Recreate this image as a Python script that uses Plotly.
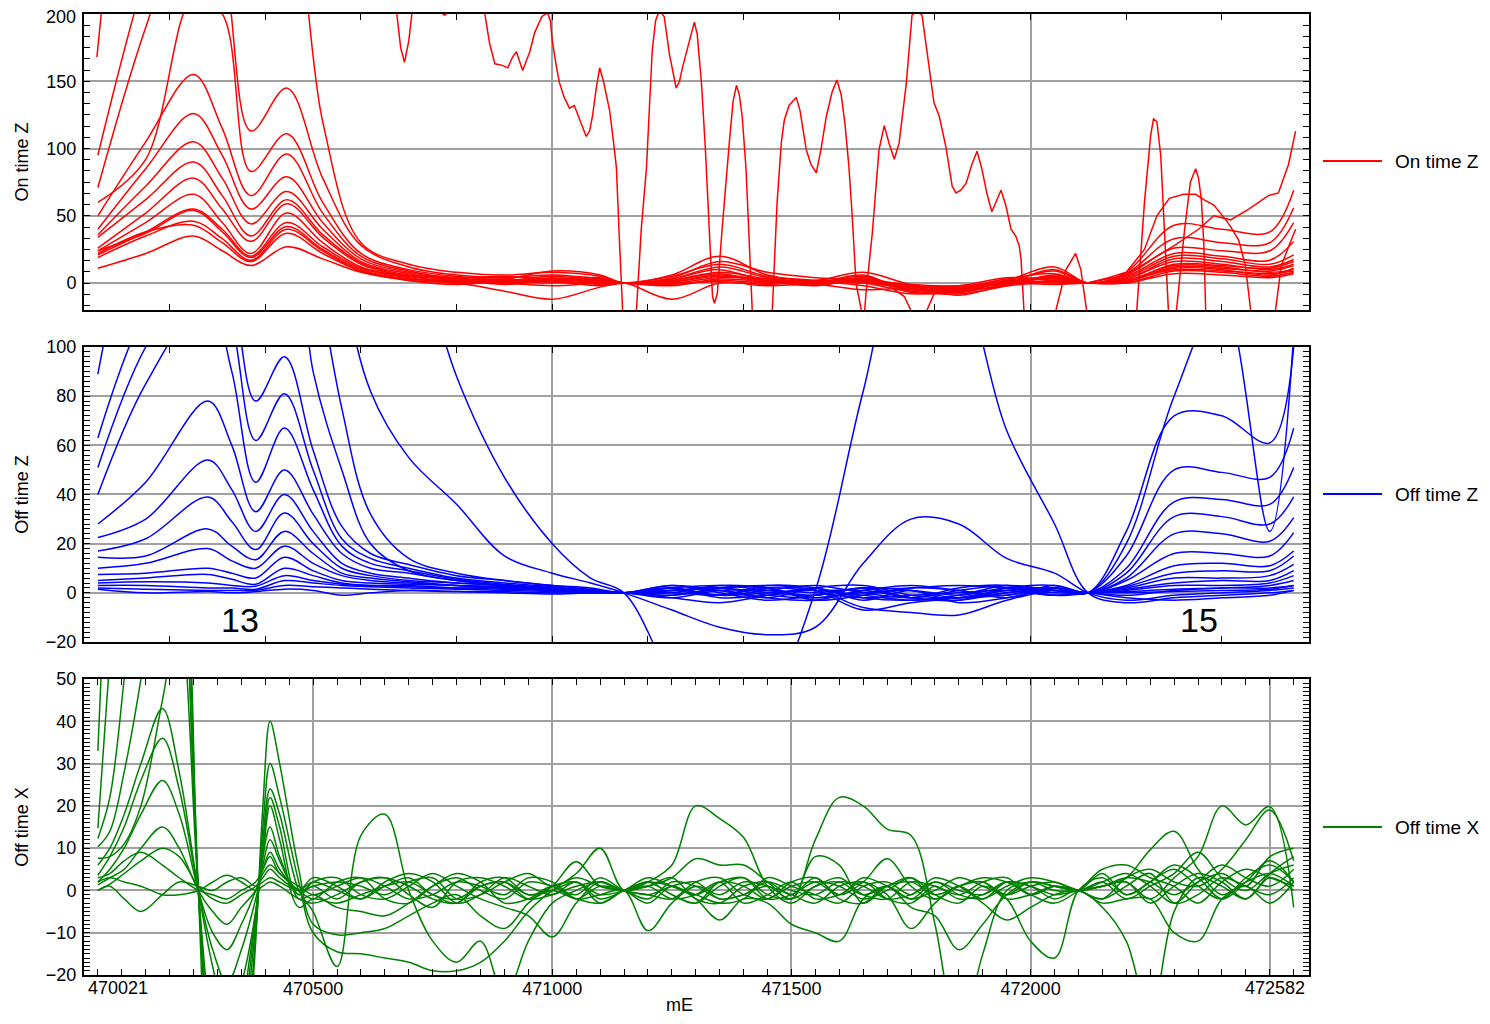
import plotly.graph_objects as go

RED = "#ff0000"
BLUE = "#0000ff"
GREEN = "#008000"
GRID = "#a0a0a0"
FONT = "Liberation Sans, Arial, sans-serif"

X_RANGE = [470021, 472582]

# ---------------- On time Z (red) ----------------
X_ON = [470050, 470150, 470250, 470310, 470370, 470445, 470520, 470600, 470700, 470800,
        470900, 471000, 471100, 471150, 471250, 471350, 471450, 471550, 471650, 471750,
        471850, 471950, 472050, 472120, 472200, 472300, 472400, 472500, 472550]

ON_B = [95, 230, 330, 290, 230, 300, 120, 30, 14, 8, 6, 8, 5, 0, 3, 12, 4, 1, 3, -2, -5, 1, 9, 0, 8, 43, 40, 38, 69]
ON_C = [71, 190, 280, 240, 113, 145, 78, 28, 12, 6, 4, 6, 3, 0, 6, 20, 6, 2, 8, -1, -4, 2, 12, 0, 7, 33, 30, 30, 56]
ON_D = [60, 92, 212, 200, 83, 111, 60, 22, 10, 5, 3, 9, 6, 0, 4, 16, 8, 4, 2, -4, -7, 0, 10, 0, 6, 26, 24, 24, 45]
ON_E = [50, 105, 155, 115, 65, 96, 52, 20, 9, 4, 5, 3, 4, 0, 2, 8, 3, 0, 5, -6, -8, -2, 6, 0, 5, 22, 20, 17, 31]
ON_F = [40, 85, 126, 95, 55, 79, 45, 18, 8, 3, 2, 5, 2, 0, 5, 14, 5, 2, 0, -3, -3, 3, 7, 0, 4, 20, 18, 14, 21]
ON_G = [36, 72, 105, 78, 44, 68, 40, 16, 7, 2, 3, 1, 3, 0, 1, 6, 2, -1, 4, -5, -6, 1, 4, 0, 3, 18, 16, 12, 17.5]
ON_H = [34, 62, 90, 65, 35, 62, 36, 15, 6, 4, 1, 4, 1, 0, 3, 10, 1, 1, 1, -2, -9, -1, 5, 0, 3, 16, 14, 10, 14]
ON_I = [26, 52, 78, 55, 31, 59, 34, 14, 5, 1, 2, 2, 2, 0, 0, 4, 3, 0, 6, -7, -4, 2, 3, 0, 2, 13, 12, 8, 10]
ON_J = [24, 45, 66, 45, 22, 52, 30, 12, 5, 3, 0, 3, 0, 0, 2, 7, 0, 2, 2, -1, -2, 4, 2, 0, 2, 10, 9, 7, 9]
ON_K = [21, 38, 55, 40, 20, 45, 27, 11, 4, 0, 1, 0, 1, 0, -2, 3, 1, -2, 3, -4, -5, 0, 1, 0, 1, 12, 11, 9, 13]
ON_L = [24, 37, 54, 38, 19, 42, 25, 10, 3, 2, -1, 2, -1, 0, 1, 5, 2, 1, 0, -6, -3, -1, 2, 0, 1, 14, 13, 11, 16]
ON_M = [19, 35, 46, 33, 17, 40, 24, 9, 3, 1, 0, -2, 0, 0, -1, 2, 0, 0, 1, -3, -7, 1, 0, 0, 1, 11, 10, 6, 11]
ON_N = [22, 38, 43, 30, 16, 37, 22, 9, 2, -1, 1, 1, -2, 0, 0, 1, -1, 1, -2, -8, -6, -2, 1, 0, 0, 9, 8, 5, 8]
ON_O = [11, 22, 35, 24, 13, 27, 18, 8, 2, 0, -6, -12, -3, 0, -12, 0, -2, -1, -5, -3, -2, 0, -1, 0, 0, 7, 6, 4, 7]
ON_CURVES = [ON_B, ON_C, ON_D, ON_E, ON_F, ON_G, ON_H, ON_I, ON_J, ON_K, ON_L, ON_M, ON_N, ON_O]

# the wild line running mostly off the top, with its spikes
ON_WILD_X = [470048, 470057, 470086, 470159, 470263, 470389, 470514, 470618, 470675, 470683,
             470691, 470700, 470708, 470733, 470765, 470775, 470786, 470827, 470859, 470869,
             470880, 470894, 470907, 470917, 470925, 470932, 470938, 470953, 470963, 470978,
             470990, 470996, 471000, 471009, 471015, 471025, 471036, 471046, 471059, 471071,
             471078, 471084, 471092, 471099, 471107, 471120, 471128, 471134, 471140, 471147,
             471161, 471176, 471186, 471197, 471203, 471209, 471216, 471224, 471234, 471245,
             471259, 471266, 471272, 471282, 471291, 471297, 471303, 471312, 471320, 471328,
             471335, 471339, 471345, 471355, 471364, 471370, 471378, 471385, 471391, 471397,
             471405, 471412, 471418, 471439, 471460, 471470, 471479, 471485, 471495, 471510,
             471518, 471531, 471541, 471552, 471562, 471573, 471585, 471595, 471604, 471612,
             471620, 471627, 471635, 471646, 471652, 471656, 471669, 471683, 471694, 471704,
             471715, 471725, 471740, 471752, 471763, 471773, 471788, 471798, 471809, 471823,
             471836, 471844, 471854, 471865, 471877, 471888, 471898, 471909, 471919, 471929,
             471938, 471948, 471959, 471969, 471976, 471980, 471986, 472017, 472053, 472074,
             472094, 472105, 472117, 472163, 472222, 472238, 472251, 472257, 472264, 472272,
             472280, 472288, 472297, 472305, 472322, 472334, 472345, 472351, 472357, 472362,
             472366, 472414, 472554]
ON_WILD_Y = [168, 200, 260, 330, 380, 360, 300, 240, 200, 175,
             164, 180, 205, 215, 202, 199, 203, 215, 200, 178,
             163, 162, 160, 168, 172, 165, 158, 172, 186, 198,
             201, 195, 180, 160, 149, 138, 130, 132, 120, 109,
             113, 124, 145, 160, 150, 128, 105, 86, 35, -20,
             -45, -20, 40, 86, 130, 173, 195, 203, 198, 170,
             145, 150, 160, 173, 185, 194, 185, 148, 100, 40,
             -10, -15, -8, 40, 80, 104, 135, 147, 140, 124,
             85, 30, -20, -45, -20, 60, 105, 121, 132, 138,
             128, 99, 88, 82, 100, 124, 142, 151, 140, 118,
             87, 50, 0, -20, -25, -7, 37, 99, 117, 104,
             92, 104, 148, 199, 203, 199, 161, 134, 124, 101,
             72, 67, 69, 74, 88, 98, 85, 66, 53, 62,
             69, 58, 40, 35, 28, 18, -20, -50, -20, 10,
             22, 10, -20, -60, -20, 60, 110, 122, 120, 95,
             40, -20, -40, -20, 40, 75, 85, 78, 62, 30,
             -20, -80, -90]

ON_P67_X = [471950, 472050, 472119, 472163, 472200, 472238, 472264, 472290, 472320, 472345,
            472362, 472383, 472408, 472418, 472435, 472449, 472460, 472485, 472512, 472524,
            472545, 472554]
ON_P67_Y = [0, 4, 0, 4, 8, 25, 50, 63, 66, 66, 62, 58, 47, 42, 32, 13, -20, -45, -20, 13, 32, 40]

ON_TOPRIGHT_X = [471950, 472050, 472119, 472200, 472301, 472351, 472383, 472418, 472456, 472497,
                 472518, 472539, 472554]
ON_TOPRIGHT_Y = [2, 5, 0, 6, 28, 40, 50, 47, 55, 65, 67, 88, 113]

ON_DIP_X = [471641, 471704, 471736, 471752, 471767, 471781, 471798, 471850, 471950]
ON_DIP_Y = [2, -2, -10, -22, -30, -22, -8, -5, 0]

# ---------------- Off time Z (blue) ----------------
X_OFFZ = [470050, 470150, 470280, 470330, 470380, 470440, 470500, 470560, 470620, 470700,
          470800, 470900, 471000, 471080, 471150, 471250, 471350, 471450, 471550, 471650,
          471750, 471850, 471950, 472050, 472120, 472200, 472300, 472400, 472500, 472550]

OZ_H1 = [89, 170, 220, 190, 160, 170, 90, 50, 20, 9, 5, 3, 2, 1, 0, 1, 2, 0, -1, 2, 1, -2, 1, 2, 0, 20, 80, 120, 25, 105]
OZ_H2 = [130, 190, 240, 210, 190, 200, 140, 75, 32, 14, 8, 5, 3, 2, 0, 2, -1, 1, 3, 0, -2, 1, 3, 1, 0, -1, 1, 2, 2, 3]
OZ_H3 = [150, 210, 260, 240, 220, 240, 200, 130, 82, 55, 36, 15, 8, 4, 0, -7, -14, -17, -14, 12, 30, 28, 14, 8, 0, -3, -1, 0, 1, 2]
OZ_H4 = [170, 230, 280, 260, 240, 260, 240, 210, 180, 150, 88, 47, 20, 6, 0, -35, -60, -45, 1, 82, 150, 130, 66, 28, 0, -4, -2, -1, 0, 1]
OZ_1 = [63, 115, 150, 125, 78, 96, 58, 27, 16, 11.5, 7, 5, 3, 1.5, 0, 2, 3, 1, -1, 2, -2, -3, 2, 3, 0, 25, 72, 72, 61, 100]
OZ_2 = [51, 100, 135, 110, 62, 81, 50, 22, 14, 10, 6, 4, 2.5, 1, 0, 1, -1, 3, 2, -2, -3, -1, 3, 1, 0, 15, 50, 49, 47, 67]
OZ_3 = [40, 85, 120, 90, 45, 67, 42, 19, 12, 9, 5.5, 3.5, 2, 1, 0, 3, 1, -2, 2, 3, -1, -2, 0, 2, 0, 10, 37, 38, 36, 51]
OZ_4 = [28, 45, 78, 60, 33, 50, 32, 16, 10, 8, 5, 3, 2, 1, 0, -1, 2, 2, -3, -1, 2, 1, -2, 2, 0, 8, 31, 31, 28, 39]
OZ_5 = [22.5, 30, 54, 42, 25, 40, 25, 12, 8, 6, 4, 3, 2, 1, 0, 2, -2, -1, 1, -6, -8, -9, -3, 1, 0, 6, 24, 24, 21, 30.6]
OZ_6 = [17, 22, 39, 29, 17.6, 32.5, 20, 10, 7, 5, 4, 3, 1.5, 1, 0, 0, 3, 2, -2, 1, 3, 1, -1, 3, 0, 5, 16, 16, 15, 24.5]
OZ_7 = [14.5, 15, 26, 19, 13.5, 25, 16, 8, 6, 4.5, 3, 2, 1.5, 0.5, 0, 3, 0, -3, -1, 2, -2, 2, 3, -1, 0, 3, 11, 12, 11, 17]
OZ_8 = [10, 12, 18, 13, 10, 19, 12, 7, 5, 4, 3, 2, 1, 0.5, 0, -2, -4, -1, 2, -3, 1, -4, -2, 2, 0, 2.5, 8, 9, 9, 15]
OZ_9 = [7.5, 8, 10, 8, 6, 14.5, 9, 5, 4, 3.5, 3, 2.5, 1.5, 0.5, 0, 1, 2, 3, 1, -7, -4, -2, 1, -1, 0, 2, 6, 6, 7, 11.6]
OZ_10 = [5, 6, 7.5, 5.5, 3.5, 10, 7, 4, 3, 3, 2, 2, 1, 0.5, 0, -1, 1, -2, -3, 1, 2, 3, 2, 0, 0, 1.5, 4, 5, 5, 9]
OZ_11 = [4, 4.5, 4, 3, 2.7, 7, 5, 3.5, 3, 2.5, 2, 1.5, 1, 0, 0, 2, -1, 0, 1, -1, -3, -2, -1, 2, 0, 1, 3, 3, 4, 7]
OZ_12 = [3, 3, 2, 2, 1.5, 5, 4, 3, 2.5, 2, 1.5, 1, 0.5, 0, 0, 1, 2, -1, -2, 0, 1, -1, 2, 1, 0, 0.5, 1.5, 2, 3, 5]
OZ_13 = [2, 1.5, 1, 1, 1, 3, 2.5, 2, 1.5, 1, 0.5, 0.5, 0, 0, 0, -2, 1, 1, 0, -2, -1, 0, 1, -1, 0, 0, 0.5, 1, 1.5, 3]
OZ_14 = [1.5, 0, 0.5, 0, 0.5, 1.5, 1, -1, 0, 1, 0.5, 0, -0.5, 0, 0, 0, -1, 2, 1, 1, -2, -3, 0, 1, 0, -2, -3, -2, -1, 1]
OZ_CURVES = [OZ_H1, OZ_H2, OZ_H3, OZ_H4, OZ_1, OZ_2, OZ_3, OZ_4, OZ_5, OZ_6, OZ_7,
             OZ_8, OZ_9, OZ_10, OZ_11, OZ_12, OZ_13, OZ_14]

# ---------------- Off time X (green) ----------------
X_OFFX = [470050, 470075, 470105, 470140, 470185, 470220, 470260, 470290, 470320, 470350,
          470380, 470395, 470410, 470430, 470470, 470500, 470550, 470600, 470650, 470700,
          470750, 470800, 470850, 470900, 470950, 471000, 471050, 471100, 471150, 471200,
          471250, 471300, 471350, 471400, 471450, 471500, 471550, 471600, 471650, 471700,
          471750, 471800, 471850, 471900, 471950, 472000, 472050, 472100, 472150, 472200,
          472250, 472300, 472350, 472400, 472450, 472500, 472550]

OX_A1 = [33, 90, 130, 150, 160, 120, 0, -70, -90, -60, -12, 20, 40, 30, 5,
         -8, -10.5, -10, -9, -6, -3, -1, -6, -9, -3, 1, 2, -1, 0,
         2, -1, -3, 1, 3, -2, -1, 2, 1, -2, 0, 3, -1, -3, 1, -2, -12, -16, 0,
         3, -1, 2, 5, 1, -2, 3, 6, 2]
OX_A2 = [14.7, 55, 100, 120, 130, 100, 0, -50, -70, -50, -10, 15, 30, 22, 2,
         -10, -14.5, -15, -16, -17, -19, -19, -17, -12, -5, 0, 3, 1, 0,
         -2, 2, 1, -2, -1, 2, 0, -1, 2, 1, -2, -1, 2, 0, -1, 2, 1, -2, 0,
         -4, -12, -30, -5, 3, 1, -2, 4, 8]
OX_A3 = [12.3, 22, 50, 90, 110, 90, 0, -45, -60, -40, -8, 12, 24, 18, 0,
         -5, -18, 13, 18, 0, -12, -17, -12, -25, -12, -3, 0, 2, 0,
         1, 3, -2, -3, 1, 2, -1, 3, -2, -3, 1, -4, -6, -14, -8, -1, 2, 1, 0,
         2, 4, 1, -3, 2, 6, 3, 1, 5]
OX_A4 = [10.3, 14, 28, 50, 85, 80, 0, -40, -55, -35, -6, 10, 22, 15, -2,
         -1, -4, -5, -6, -3, 1, 3, 0, -2, 2, 1, -1, 3, 0,
         -1, -2, 2, 3, -1, -2, 1, 2, -1, 3, 1, -2, 0, 3, 1, -1, 2, 0, 0,
         1, 2, -2, 3, 8, 20, 15.5, 19.8, -4]
OX_A5 = [7.6, 8, 11, 20, 45, 65, 0, -35, -50, -30, -5, 8, 20, 12, -4,
         -2, -3, -1, 1, 2, -1, -3, 2, 3, -1, 0, 2, -2, 0,
         3, 1, -1, 2, 3, -1, -2, 1, 3, -1, -2, 2, 1, -1, 2, 3, -1, 1, 0,
         -2, 3, 5, 2, 1, 5, 12, 19, 7]
OX_B1 = [6, 10, 18, 30, 43, 28, 0, -18, -30, -22, -5, 8, 15, 8, -1,
         2, 3, -1, -2, 1, 4, 1, -2, -4, -6, -11, -3, 2, 0,
         2, 6, 20, 17, 12.5, 1, -3, 1, 2, -1, 1, 3, -2, 1, 2, -1, 1, 2, 0,
         2, -2, 1, 4, 9, 3, 0, 4, 6]
OX_B2 = [3.6, 8, 15, 26, 36, 24, 0, -14, -22, -14, -2, 6, 12, 7, -1,
         1, -2, 2, 3, -1, -4, 2, 3, 1, -2, 1, 6.8, 1, 0,
         -1, 1, 2, -2, -1, 1, -2, 12, 22, 20, 14.5, 13, -8, -35, -15, 0, 2, 1, 0,
         1, 3, 2, -1, 2, 4, 1, 8, 10]
OX_B3 = [2, 5, 10, 18, 26, 18, 0, -10, -14, -8, 0, 5, 9, 5, 0,
         3, 1, -2, 2, 4, 2, -3, -1, 3, 1, -1, 2, -3, 0,
         1, 3, 7.5, 6, 6, 2, -2, 8, 6, -3, 1, 2, -1, 1, 3, 2, -1, -3, 0,
         5, 6, 3, 1, -3, 2, 5, 3, 1]
OX_B4 = [1.3, 3, 5, 10, 15, 10, 0, -5, -8, -4, 0, 4, 6, 4, 0,
         -2, 2, 3, -2, -3, 1, 4, 2, -3, -2, 1, -2, 1, 0,
         -3, 1, -2, -7, -2, -3, -8, -10, -12, -2, 1, -2, 2, -1, -2, 1, 3, 2, 0,
         -2, 1, 4, -3, -1, 3, 1, -1, 3]
OX_B5 = [0, 1.5, 4, 7, 10, 8, 1, -2, -3, -1, 1, 3, 5, 3, 0,
         1, 2, 1, -1, 2, 3, -2, -1, 2, 4, 1, 4, 10, 0,
         2, -1, -3, 2, 1, -2, 2, 3, -1, 2, 7.5, 1, -2, 1, 2, -2, -1, 1, 0,
         4, -1, 2, 6, 3, -2, 2, 7, 2]
OX_B6 = [3, 4, 7, 9, 6, 3, 0, -1, -2, 0, 2, 5, 8, 4, 1,
         -1, 1, 3, 1, -2, -1, 2, 1, -1, 3, 2, -2, -1, 0,
         -9.5, -3, 1, -1, 2, 1, -1, -3, 1, 2, -1, -9, -3, 1, -2, 2, 1, -1, 0,
         1, 2, -3, 1, 4, 2, -2, 3, 0]
OX_C1 = [0, 1, -2, -5, -1, 2, 1, 0, 2, 3, 1, 2, 3, 2, 0,
         2, 0, -2, 1, 3, -1, -2, 1, 2, -2, -1, 1, 2, 0,
         1, -2, -1, 2, -3, -1, 2, -2, -1, 2, -2, -3, 1, -2, -1, 2, -1, 1, 0,
         1, 3, 9.6, 14, 5, -1, 2, 4, 1]
OX_C2 = [2, 3, 2, 1, -1, -1, 0, 2, 3.6, 2, 0, 1, 2, 1, -2,
         -3, -1, 2, 3, 1, -2, -3, 1, 2, -1, 0, -2, -3, 0,
         2, 1, -1, -3, -2, 3, 1, -1, -3, 1, 2, -1, 3, 1, -3, -7, -4, -1, 0,
         -3, -2, -2, -10, -12, -2, 1, -3, 2]
OX_CURVES = [OX_A1, OX_A2, OX_A3, OX_A4, OX_A5, OX_B1, OX_B2, OX_B3, OX_B4,
             OX_B5, OX_B6, OX_C1, OX_C2]

# labels
ON_TICKS = [0, 50, 100, 150, 200]
ON_TICKTEXT = ["0", "50", "100", "150", ""]   # "200" is drawn a touch lower below
BOTTOM_TICKS = [470500, 471000, 471500, 472000, 472500]
BOTTOM_TICKTEXT = ["470500", "471000", "471500", "472000", ""]
MARKERS = [("13", 470347, -11), ("15", 472351, -11)]
X_TITLE = "mE"

# legend entries: (label, colour, vertical position in paper units)
LEGEND_ITEMS = [("On time Z", RED, 0.847), ("Off time Z", BLUE, 0.5005), ("Off time X", GREEN, 0.154)]


def add_family(fig, x, curves, color, axis_no, shape="spline"):
    xa = "x" if axis_no == 1 else f"x{axis_no}"
    ya = "y" if axis_no == 1 else f"y{axis_no}"
    for y in curves:
        fig.add_trace(
            go.Scatter(
                x=x,
                y=y,
                mode="lines",
                line=dict(color=color, width=1.5, shape=shape),
                xaxis=xa,
                yaxis=ya,
                showlegend=False,
                hoverinfo="skip",
            )
        )


def add_line(fig, x, y, color, axis_no):
    xa = "x" if axis_no == 1 else f"x{axis_no}"
    ya = "y" if axis_no == 1 else f"y{axis_no}"
    fig.add_trace(
        go.Scatter(
            x=x, y=y, mode="lines", line=dict(color=color, width=1.5),
            xaxis=xa, yaxis=ya, showlegend=False, hoverinfo="skip",
        )
    )


fig = go.Figure()

add_family(fig, X_ON, ON_CURVES, RED, 1)
add_line(fig, ON_WILD_X, ON_WILD_Y, RED, 1)
add_line(fig, ON_P67_X, ON_P67_Y, RED, 1)
add_line(fig, ON_TOPRIGHT_X, ON_TOPRIGHT_Y, RED, 1)
add_line(fig, ON_DIP_X, ON_DIP_Y, RED, 1)

add_family(fig, X_OFFZ, OZ_CURVES, BLUE, 2)
add_family(fig, X_OFFX, OX_CURVES, GREEN, 3)

axis_common = dict(
    showline=True,
    linecolor="black",
    linewidth=2,
    mirror="allticks",
    ticks="inside",
    ticklen=6,
    tickwidth=1,
    tickcolor="black",
    gridcolor=GRID,
    gridwidth=1.5,
    zeroline=False,
    automargin=False,
    ticklabeloverflow="allow",
    tickfont=dict(family=FONT, size=18, color="black"),
)

top_x = dict(
    axis_common, range=X_RANGE, tick0=0, dtick=1000, showticklabels=False,
    minor=dict(tick0=0, dtick=200, ticks="inside", ticklen=6, tickcolor="black", showgrid=False),
)

y_title_font = dict(family=FONT, size=18, color="black")

# the page body adds an 8 px margin all round, so the figure is kept 16 px
# smaller than the window to avoid scrollbars
fig.update_layout(
    width=1474,
    height=1008,
    margin=dict(l=76, r=173, t=6, b=41),
    paper_bgcolor="white",
    plot_bgcolor="white",
    font=dict(family=FONT, size=18, color="black"),
    showlegend=False,
    xaxis=dict(top_x, domain=[0, 1], anchor="y"),
    xaxis2=dict(top_x, domain=[0, 1], anchor="y2"),
    xaxis3=dict(
        axis_common, range=X_RANGE, domain=[0, 1], anchor="y3",
        tickmode="array", tickvals=BOTTOM_TICKS, ticktext=BOTTOM_TICKTEXT,
        ticklabelstandoff=-4,
        minor=dict(tickmode="linear", tick0=0, dtick=50, ticks="inside", ticklen=6,
                   tickcolor="black", showgrid=False),
    ),
    yaxis=dict(
        axis_common, domain=[0.692, 1.0], anchor="x", range=[-20, 200],
        tickmode="array", tickvals=ON_TICKS, ticktext=ON_TICKTEXT,
        ticklabelstandoff=2,
        minor=dict(tickmode="linear", tick0=0, dtick=50 / 6, ticks="inside", ticklen=6,
                   tickcolor="black", showgrid=False),
        title=dict(text="On time Z", font=y_title_font, standoff=13),
    ),
    yaxis2=dict(
        axis_common, domain=[0.3465, 0.6535], anchor="x2", range=[-20, 100], tick0=0, dtick=20,
        ticklabelstandoff=2,
        minor=dict(tick0=0, dtick=2, ticks="inside", ticklen=6, tickcolor="black", showgrid=False),
        title=dict(text="Off time Z", font=y_title_font, standoff=13),
    ),
    yaxis3=dict(
        axis_common, domain=[0, 0.308], anchor="x3", range=[-20, 50], tick0=0, dtick=10,
        ticklabelstandoff=2,
        minor=dict(tick0=0, dtick=1, ticks="inside", ticklen=6, tickcolor="black", showgrid=False),
        title=dict(text="Off time X", font=y_title_font, standoff=13),
    ),
)

# legends drawn as a short line plus a label to the right of each panel
shapes = []
annotations = []
for label, color, ly in LEGEND_ITEMS:
    shapes.append(dict(
        type="line", xref="paper", yref="paper", x0=1.0114, x1=1.0596, y0=ly, y1=ly,
        line=dict(color=color, width=2),
    ))
    annotations.append(dict(
        text=label, x=1.0686, y=ly, xref="paper", yref="paper", xanchor="left",
        yanchor="middle", showarrow=False, font=dict(family=FONT, size=19, color="black"),
    ))

for text, mx, my in MARKERS:
    annotations.append(dict(
        text=text, x=mx, y=my, xref="x2", yref="y2", showarrow=False,
        font=dict(family=FONT, size=34, color="black"),
    ))
annotations.append(dict(
    text=str(ON_TICKS[-1]), x=0, y=ON_TICKS[-1], xref="paper", yref="y", xanchor="right",
    yanchor="middle", xshift=-6, yshift=-3, showarrow=False,
    font=dict(family=FONT, size=18, color="black"),
))
annotations.append(dict(
    text=str(X_RANGE[0]), x=X_RANGE[0], y=0, xref="x3", yref="paper", xanchor="left",
    yanchor="top", xshift=2, yshift=-1, showarrow=False, font=dict(family=FONT, size=18, color="black"),
))
annotations.append(dict(
    text=str(X_RANGE[1]), x=X_RANGE[1], y=0, xref="x3", yref="paper", xanchor="right",
    yanchor="top", xshift=-2, yshift=-1, showarrow=False, font=dict(family=FONT, size=18, color="black"),
))
# x-axis title, kept just inside the bottom edge of the figure
annotations.append(dict(
    text=X_TITLE, x=0.4865, y=0, xref="paper", yref="paper", xanchor="center",
    yanchor="middle", yshift=-30, showarrow=False, font=dict(family=FONT, size=18, color="black"),
))
fig.update_layout(shapes=shapes, annotations=annotations)

fig.write_html("out.html")
